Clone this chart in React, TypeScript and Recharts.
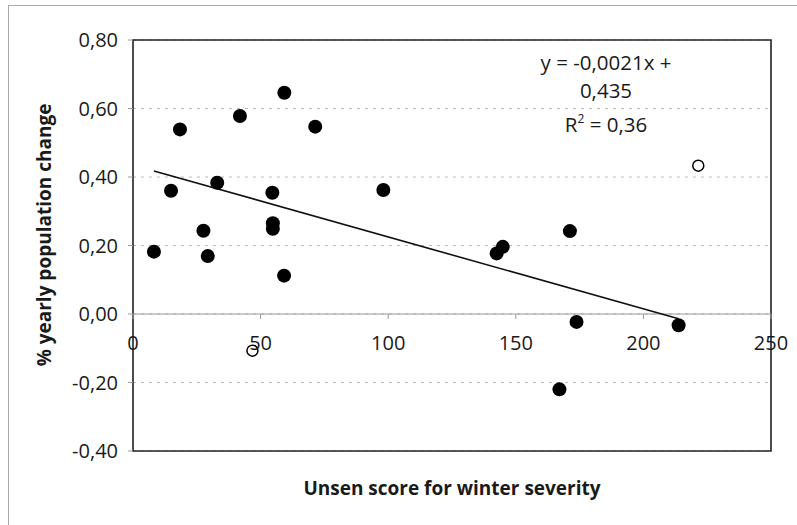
import React from "react";
import {
  ScatterChart,
  Scatter,
  XAxis,
  YAxis,
  CartesianGrid,
  ReferenceLine,
  ReferenceArea,
  Label,
} from "recharts";

// Winter severity (Unsen score) vs. yearly population change
const filledX = [8.2, 18.4, 14.9, 27.6, 29.3, 33.0, 41.9, 59.3, 71.4, 54.6, 54.8, 54.8, 98.1, 59.2, 171.2, 144.9, 142.5, 173.8, 213.8, 167.1];
const filledY = [0.182, 0.539, 0.36, 0.243, 0.169, 0.383, 0.578, 0.646, 0.547, 0.354, 0.265, 0.249, 0.362, 0.112, 0.242, 0.196, 0.177, -0.023, -0.033, -0.22];

// points left out of the regression
const openX = [221.5, 46.8];
const openY = [0.433, -0.107];

const xTicks = [0, 50, 100, 150, 200, 250];
const yTicks = [-0.4, -0.2, 0, 0.2, 0.4, 0.6, 0.8];

const slope = -0.0021;
const intercept = 0.435;
const rSquared = 0.36;

const filled = filledX.map((x, i) => ({ x, y: filledY[i] }));
const open = openX.map((x, i) => ({ x, y: openY[i] }));

const trendStart = Math.min(...filledX);
const trendEnd = Math.max(...filledX);

const W = 797;
const H = 525;
const PLOT_TOP = 40;
const PLOT_BOTTOM = 451;
const Y_MIN = -0.4;
const Y_MAX = 0.8;
const ZERO_Y = PLOT_TOP + ((Y_MAX - 0) / (Y_MAX - Y_MIN)) * (PLOT_BOTTOM - PLOT_TOP);

const FONT = "'Open Sans', sans-serif";
const INK = "#1a1a1a";

const comma = (v: number, d: number) => v.toFixed(d).replace(".", ",");

// x labels sit under the zero line, like the spreadsheet original
const XTick = (props: any) => {
  const { x, payload } = props;
  return (
    <g>
      <line x1={x} x2={x} y1={ZERO_Y} y2={ZERO_Y + 5} stroke="#999" />
      <text x={x} y={ZERO_Y + 29} dy="0.35em" textAnchor="middle" fill={INK} fontSize={20} fontFamily={FONT}>
        {payload.value}
      </text>
    </g>
  );
};

const Equation = () => (
  <g fontFamily={FONT} fontSize={20.5} fill={INK} textAnchor="middle">
    <text x={606} y={63} dy="0.35em">{`y = ${comma(slope, 4)}x +`}</text>
    <text x={606} y={91} dy="0.35em">{comma(intercept, 3)}</text>
    <text x={606} y={125} dy="0.35em">
      R<tspan fontSize={12} dy={-9}>2</tspan>
      <tspan dy={9}>{` = ${comma(rSquared, 2)}`}</tspan>
    </text>
  </g>
);

export default function App() {
  return (
    <div style={{ position: "absolute", left: 0, top: 0, width: W, height: H, background: "#fff" }}>
      <div
        style={{
          position: "absolute",
          left: 8,
          top: 5,
          right: 0,
          bottom: 0,
          borderTop: "1px solid #aaa",
          borderLeft: "1px solid #aaa",
        }}
      />
      <div style={{ position: "absolute", left: 0, top: 0 }}>
        <ScatterChart width={W} height={H} margin={{ top: PLOT_TOP, right: 26, bottom: 44, left: 0 }}>
          <CartesianGrid vertical={false} stroke="#bbb" strokeDasharray="3 5" />
          <XAxis
            type="number"
            dataKey="x"
            domain={[0, 250]}
            ticks={xTicks}
            axisLine={false}
            tickLine={false}
            tick={<XTick />}
            height={30}
          >
            <Label
              content={() => (
                <text x={452} y={488} dy="0.35em" textAnchor="middle" fill={INK} fontSize={19} fontWeight={700} fontFamily={FONT}>
                  Unsen score for winter severity
                </text>
              )}
            />
          </XAxis>
          <YAxis
            type="number"
            dataKey="y"
            domain={[Y_MIN, Y_MAX]}
            ticks={yTicks}
            width={133}
            tickFormatter={(v: number) => comma(v, 2)}
            tick={{ fill: INK, fontSize: 20, fontFamily: FONT }}
            tickLine={{ stroke: "#999" }}
            tickSize={5}
            tickMargin={10}
            axisLine={false}
          >
            <Label
              content={() => (
                <text
                  x={44}
                  y={235}
                  dy="0.35em"
                  transform="rotate(-90 44 235)"
                  textAnchor="middle"
                  fill={INK}
                  fontSize={19}
                  fontWeight={700}
                  fontFamily={FONT}
                >
                  % yearly population change
                </text>
              )}
            />
          </YAxis>
          <ReferenceLine y={0} stroke="#999" strokeWidth={1} />
          <ReferenceArea x1={0} x2={250} y1={Y_MIN} y2={Y_MAX} fill="none" stroke="#222" strokeWidth={1.6} label={<Equation />} />
          <ReferenceLine
            segment={[
              { x: trendStart, y: intercept + slope * trendStart },
              { x: trendEnd, y: intercept + slope * trendEnd },
            ]}
            stroke="#111"
            strokeWidth={1.6}
          />
          <Scatter
            data={filled}
            isAnimationActive={false}
            shape={(p: any) => <circle cx={p.cx} cy={p.cy} r={7} fill="#000" />}
          />
          <Scatter
            data={open}
            isAnimationActive={false}
            shape={(p: any) => <circle cx={p.cx} cy={p.cy} r={5.5} fill="#fff" stroke="#000" strokeWidth={1.5} />}
          />
        </ScatterChart>
      </div>
    </div>
  );
}
